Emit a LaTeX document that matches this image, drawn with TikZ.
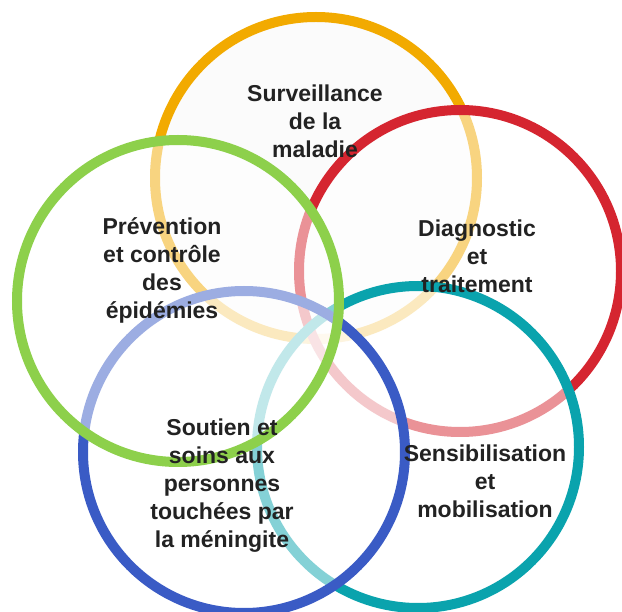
\documentclass[tikz,border=0pt]{standalone}
\usepackage{fontspec}
\setmainfont{Liberation Sans}
\definecolor{cyellow}{HTML}{F2AA00}
\definecolor{cred}{HTML}{D52530}
\definecolor{cgreen}{HTML}{8DD04B}
\definecolor{cblue}{HTML}{3A5BC5}
\definecolor{cteal}{HTML}{0AA3AD}
\definecolor{ctext}{HTML}{222222}
\tikzset{
  ring/.style={line width=10pt, fill=white, fill opacity=0.5, draw opacity=1},
  label/.style={align=center, text=ctext, font=\fontsize{23}{28}\selectfont\bfseries, inner sep=0pt}
}
\begin{document}
\begin{tikzpicture}[x=1pt,y=-1pt]
\useasboundingbox (0,0) rectangle (622,612);
\draw[ring, draw=cyellow, fill=black!3] (316,178) circle (161);
\draw[ring, draw=cred] (460,271) circle (161);
\draw[ring, draw=cteal] (418,447) circle (161);
\draw[ring, draw=cblue] (244,452) circle (161);
\draw[ring, draw=cgreen] (178,301) circle (161);
\node[label] (t1) at (315,121) {Surveillance\\de la\\maladie};
\node[label] (t2) at (162,270) {Prévention\\et contrôle\\des\\épidémies};
\node[label] (t3) at (477,256) {Diagnostic\\et\\traitement};
\node[label] (t4) at (222,486) {Soutien et\\soins aux\\personnes\\touchées par\\la méningite};
\node[label] (t5) at (485,481) {Sensibilisation\\et\\mobilisation};
\end{tikzpicture}
\end{document}
